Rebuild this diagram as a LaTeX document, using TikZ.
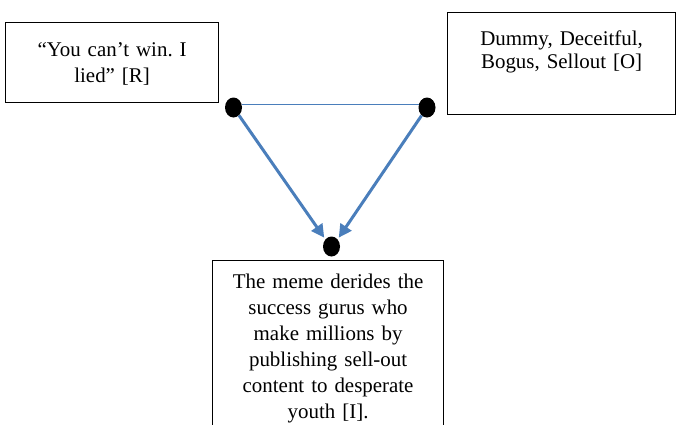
\documentclass[tikz,border=0pt]{standalone}
\usepackage{fontspec}
\setmainfont{Liberation Serif}
\usetikzlibrary{arrows.meta,shapes.geometric}
\definecolor{linkblue}{HTML}{4A7EBB}
\frenchspacing

\begin{document}
\begin{tikzpicture}[x=1bp,y=-1bp,
  sign/.style={rectangle,draw=black,line width=1.2bp,inner sep=0pt,align=center,anchor=north west,font=\fontsize{21}{26}\selectfont},
  dot/.style={ellipse,fill=black,minimum width=17bp,minimum height=20bp,inner sep=0pt},
  tie/.style={draw=linkblue,line width=1.3bp},
  pull/.style={draw=linkblue,line width=3bp,-{Triangle[length=13bp,width=13bp]},shorten >=2bp}]
  \useasboundingbox (0,0) rectangle (676,424);
  \clip (0,0) rectangle (676,424);
  % boxes
  \node[sign,text width=213bp,text height=33.5bp,text depth=46.5bp] (rep) at (5,22) {“You can’t win. I\\ lied” [R]};
  \node[sign,text width=228bp,text height=33bp,text depth=69bp,font=\fontsize{21}{22.7}\selectfont] (obj) at (447,12) {Dummy, Deceitful,\\ Bogus, Sellout [O]};
  \node[sign,text width=231bp,text height=28bp,text depth=180bp] (int) at (212,260) {The meme derides the\\ success gurus who\\ make millions by\\ publishing sell-out\\ content to desperate\\ youth [I].};
  % dots
  \node[dot] (lt) at (233.5,107.5) {};
  \node[dot] (rt) at (427,107.5) {};
  \node[dot] (bt) at (331.5,246.5) {};
  % connectors
  \draw[tie] (lt.20) -- (rt.160);
  \draw[pull] (lt) -- (bt.north west);
  \draw[pull] (rt) -- (bt.north east);
\end{tikzpicture}
\end{document}
